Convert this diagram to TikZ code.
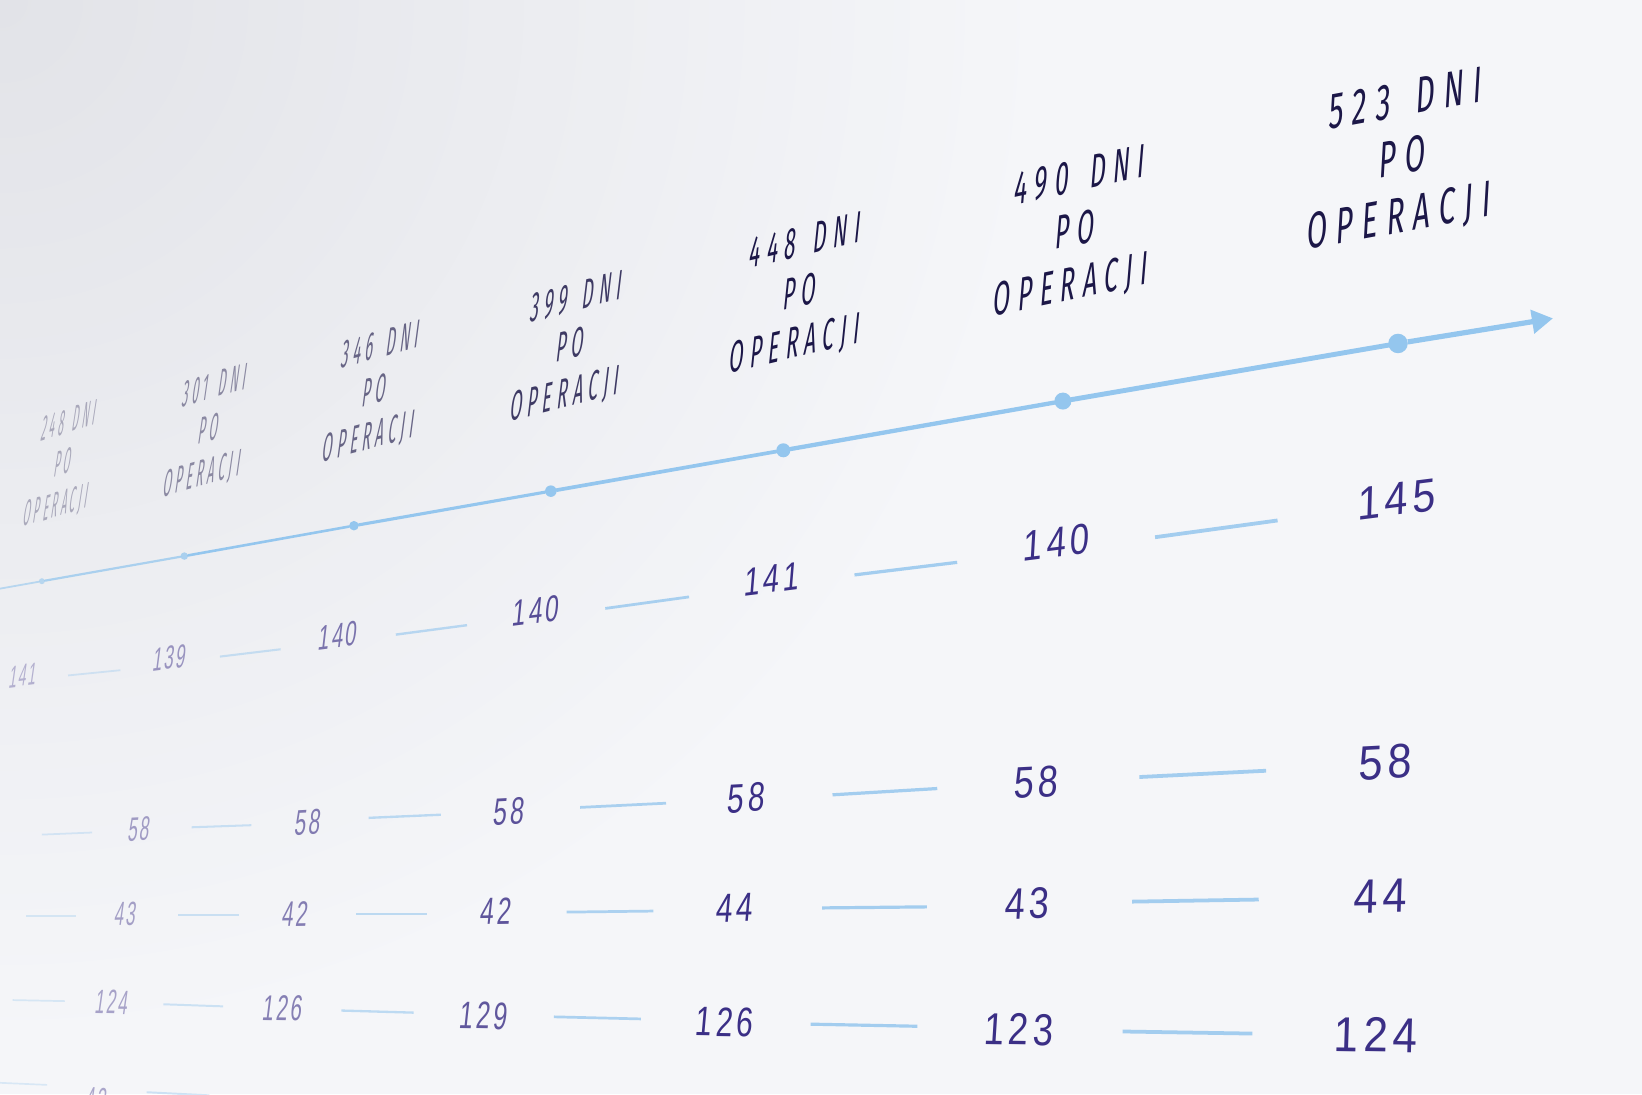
\documentclass[tikz,border=0pt]{standalone}
\usepackage{fontspec}
\usetikzlibrary{arrows.meta}
\IfFontExistsTF{Fira Sans Book}{%
  \newfontfamily\hdrfont[LetterSpace=30]{Fira Sans Book}}{%
  \newfontfamily\hdrfont[LetterSpace=30]{Fira Sans}}
\newfontfamily\numfont[LetterSpace=12]{Liberation Sans}
\definecolor{bgc}{HTML}{F5F6F9}
\definecolor{bgdark}{HTML}{E2E3E8}
\definecolor{axisc}{HTML}{94C6EE}
\definecolor{dashc}{HTML}{A3CDEF}
\definecolor{hdrc}{HTML}{1C1748}
\definecolor{numc}{HTML}{3B2F86}
\tikzset{
  numtxt/.style={font=\numfont\fontsize{44}{50}\selectfont, text=numc, inner sep=0pt},
  hdrtxt/.style={font=\hdrfont\fontsize{50}{57}\selectfont, text=hdrc, align=center, inner sep=0pt},
  axisln/.style={draw=axisc, line cap=round},
  dotnode/.style={circle, fill=axisc, inner sep=0pt},
  dashln/.style={draw=dashc, line cap=butt},
}
\newcommand\wnum[6]{%
  \pgfmathsetmacro\mysw{0.9*#5*(0.33+0.67*#2/1330)}%
  \pgfmathsetmacro\mysh{#5*(0.66+0.34*#2/1330)}%
  \pgfmathsetmacro\mysl{tan(#4)+0.03+0.12*(1-#2/1330)}%
  \pgfmathsetmacro\myop{min(1,0.3+0.7*#2/650)}%
  \node[numtxt, opacity=\myop, rotate=#4, xslant=\mysl, xscale=\mysw, yscale=\mysh] (#1) at (#2,#3) {#6};}
\newcommand\whdr[4]{%
  \pgfmathsetmacro\myrot{10.5+6.5*(1-#2/1340)}%
  \pgfmathsetmacro\mysw{0.6*(0.33+0.67*#2/1340)}%
  \pgfmathsetmacro\mysh{0.66+0.34*#2/1340}%
  \pgfmathsetmacro\mysl{tan(\myrot)+0.06+0.12*(1-#2/1340)}%
  \pgfmathsetmacro\myop{min(1,0.25+0.75*#2/700)}%
  \node[hdrtxt, opacity=\myop, rotate=\myrot, xslant=\mysl, xscale=\mysw, yscale=\mysh] (#1) at (#2,#3) {#4\hspace{0.3em} DNI\\PO\\OPERACJI};}
\newcommand\wdash[4]{%
  \pgfmathsetmacro\myw{1.6+2.4*#3/1330}%
  \pgfmathsetmacro\myop{min(1,0.35+0.65*#1/650)}%
  \draw[dashln, line width=\myw pt, opacity=\myop] (#1,#2) -- (#3,#4);}
\begin{document}
\begin{tikzpicture}[x=1.04719pt, y=-1.04719pt]
\useasboundingbox (0,0) rectangle (1568,1045);
\begin{scope}
  \clip (0,0) rectangle (1568,1045);
  \fill[bgc] (0,0) rectangle (1568,1045);
  \shade[inner color=bgdark, outer color=bgc] (0,0) circle[radius=1000];
\end{scope}

% headers
\whdr{h1}{60}{444}{248}
\whdr{h2}{199}{412}{301}
\whdr{h3}{358}{375}{346}
\whdr{h4}{545}{332}{399}
\whdr{h5}{764}{281}{448}
\whdr{h6}{1027}{222}{490}
\whdr{h7}{1339}{153}{523}

% axis
\coordinate (start) at (-5,563);
\coordinate (tip) at (1483,304);
\node[dotnode, minimum size=6pt, opacity=0.6] (d1) at (40,555) {};
\node[dotnode, minimum size=7.5pt, opacity=0.75] (d2) at (176,531) {};
\node[dotnode, minimum size=9.5pt] (d3) at (338,502) {};
\node[dotnode, minimum size=11.5pt] (d4) at (526,469) {};
\node[dotnode, minimum size=14pt] (d5) at (748,430) {};
\node[dotnode, minimum size=17pt] (d6) at (1015,383) {};
\node[dotnode, minimum size=19.5pt] (d7) at (1335,328) {};
\draw[axisln, line width=1.8pt, opacity=0.6] (start) -- (d1);
\draw[axisln, line width=2.2pt, opacity=0.75] (d1) -- (d2);
\draw[axisln, line width=2.6pt] (d2) -- (d3);
\draw[axisln, line width=3.1pt] (d3) -- (d4);
\draw[axisln, line width=3.7pt] (d4) -- (d5);
\draw[axisln, line width=4.3pt] (d5) -- (d6);
\draw[axisln, line width=4.9pt] (d6) -- (d7);
\draw[axisln, line width=5.2pt, line cap=butt, -{Triangle[length=21pt,width=23pt]}] (d7) -- (tip);

% row 1
\wnum{r1a}{22}{645}{7.2}{1.05}{141}
\wnum{r1b}{162}{628}{7.2}{1.05}{139}
\wnum{r1c}{323}{607}{7.2}{1.05}{140}
\wnum{r1d}{512}{583}{7.2}{1.05}{140}
\wnum{r1e}{737}{553}{7.2}{1.05}{141}
\wnum{r1f}{1009}{518}{7.2}{1.05}{140}
\wnum{r1g}{1334}{477}{7.2}{1.05}{145}
\wdash{65}{645}{115}{640}
\wdash{210}{627}{268}{620}
\wdash{378}{606}{446}{597}
\wdash{578}{581}{658}{570}
\wdash{816}{549}{914}{537}
\wdash{1103}{513}{1220}{497}

% row 2
\wnum{r2b}{133}{792}{3.0}{1.1}{58}
\wnum{r2c}{294}{785}{3.0}{1.1}{58}
\wnum{r2d}{486}{775}{3.0}{1.1}{58}
\wnum{r2e}{713}{762}{3.0}{1.1}{58}
\wnum{r2f}{990}{747}{3.0}{1.1}{58}
\wnum{r2g}{1323}{728}{3.0}{1.1}{58}
\wdash{40}{797}{88}{795}
\wdash{183}{790}{240}{788}
\wdash{352}{781}{421}{778}
\wdash{554}{771}{636}{767}
\wdash{795}{759}{895}{753}
\wdash{1088}{742}{1209}{736}

% row 3
\wnum{r3b}{120}{873}{1.0}{1.1}{43}
\wnum{r3c}{282}{873}{1.0}{1.1}{42}
\wnum{r3d}{474}{870}{1.0}{1.1}{42}
\wnum{r3e}{702}{867}{1.0}{1.1}{44}
\wnum{r3f}{981}{863}{1.0}{1.1}{43}
\wnum{r3g}{1318}{856}{1.0}{1.1}{44}
\wdash{25}{875}{73}{875}
\wdash{170}{874}{228}{874}
\wdash{340}{873}{408}{873}
\wdash{541}{871}{624}{870}
\wdash{785}{867}{885}{866}
\wdash{1081}{861}{1202}{859}

% row 4
\wnum{r4b}{107}{957}{-0.9}{1.12}{124}
\wnum{r4c}{270}{963}{-0.9}{1.12}{126}
\wnum{r4d}{462}{970}{-0.9}{1.12}{129}
\wnum{r4e}{692}{976}{-0.9}{1.12}{126}
\wnum{r4f}{973}{983}{-0.9}{1.12}{123}
\wnum{r4g}{1314}{988}{-0.9}{1.12}{124}
\wdash{12}{955}{62}{956}
\wdash{156}{959}{213}{961}
\wdash{326}{965}{395}{967}
\wdash{529}{971}{612}{973}
\wdash{774}{978}{876}{980}
\wdash{1072}{985}{1196}{987}

% row 5 (cut off at the lower edge, as in the photo)
\wnum{r5b}{92}{1050}{-2}{1.12}{42}
\wdash{0}{1034}{45}{1036}
\wdash{140}{1043}{200}{1046}
\end{tikzpicture}
\end{document}
